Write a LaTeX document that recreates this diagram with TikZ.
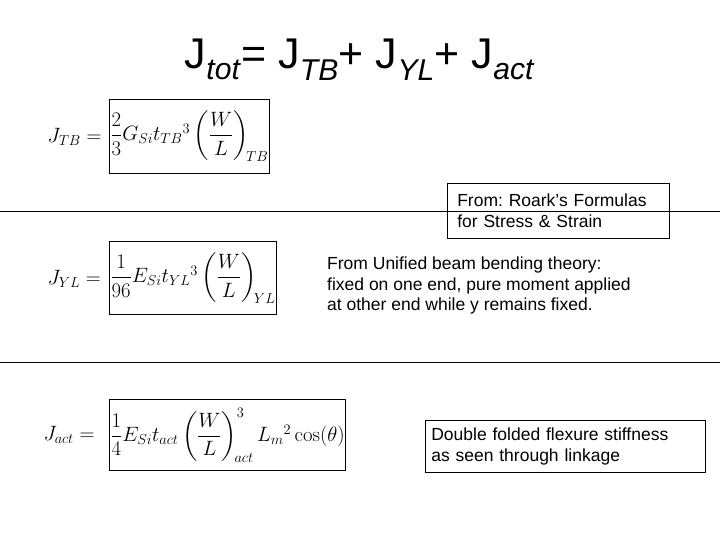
\documentclass[tikz,border=0pt]{standalone}
\usepackage{amsmath}
\usepackage[no-math]{fontspec}
\setmainfont{Liberation Sans}
\frenchspacing
\begin{document}
\begin{tikzpicture}[x=1pt,y=-1pt,
  eq/.style={draw,line width=0.8pt,inner sep=1pt,anchor=west,font=\fontsize{22.5}{27}\selectfont},
  lab/.style={anchor=west,font=\fontsize{22.5}{27}\selectfont},
  note/.style={align=left,font=\fontsize{17.5}{20.5}\selectfont,inner sep=5pt},
  sep/.style={line width=0.6pt}]
\useasboundingbox[fill=white] (0,0) rectangle (720,540);
\node (title) at (360,60) {\fontsize{43}{48}\selectfont J\textsubscript{\textit{tot}}= J\textsubscript{\textit{TB}}+ J\textsubscript{\textit{YL}}+ J\textsubscript{\textit{act}}};
\coordinate (l1a) at (0,211); \coordinate (l1b) at (720,211);
\coordinate (l2a) at (0,362); \coordinate (l2b) at (720,362);
\draw[sep] (l1a) -- (l1b);
\draw[sep] (l2a) -- (l2b);
\node[lab] (j1) at (44,137) {$J_{TB}=$};
\node[eq,minimum height=74pt] (e1) at (109,136) {$\dfrac{2}{3}G_{Si}t_{TB}{}^{3}\left(\dfrac{W}{L}\right)_{\!TB}$};
\node[lab] (j2) at (44,279) {$J_{YL}=$};
\node[eq,minimum height=73pt] (e2) at (109,278) {$\dfrac{1}{96}E_{Si}t_{YL}{}^{3}\left(\dfrac{W}{L}\right)_{\!YL}$};
\node[lab] (j3) at (40,435) {$J_{act}=$};
\node[eq,minimum height=71pt] (e3) at (109,435) {$\dfrac{1}{4}E_{Si}t_{act}\left(\dfrac{W}{L}\right)^{3}_{\!act}L_{m}{}^{2}\cos(\theta)$};
\node[note,draw,line width=0.6pt,anchor=north west,inner xsep=10pt,text width=202pt,minimum height=55pt] (n1) at (447,183) {From: Roark’s Formulas\\for Stress \& Strain};
\node[note,anchor=north west] (n2) at (322,252) {From Unified beam bending theory:\\fixed on one end, pure moment applied\\at other end while y remains fixed.};
\node[note,draw,line width=0.6pt,anchor=north west,inner xsep=6pt,text width=268pt,minimum height=52pt] (n3) at (425,420) {Double folded flexure stiffness\\as seen through linkage};
\end{tikzpicture}
\end{document}
